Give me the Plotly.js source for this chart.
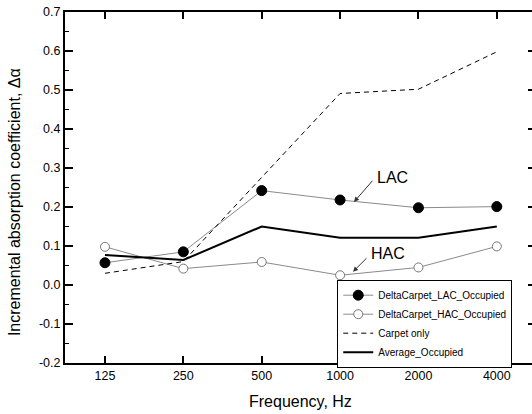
<!DOCTYPE html>
<html>
<head>
<meta charset="utf-8">
<script src="https://cdn.plot.ly/plotly-3.0.1.min.js"></script>
<style>
html,body{margin:0;padding:0;overflow:hidden;background:#fff;}
#chart{width:540px;height:414px;}
</style>
</head>
<body>
<div id="chart"></div>
<script>
// ---- data ----
var frequencies = ['125', '250', '500', '1000', '2000', '4000'];
var lacOccupied = [0.057, 0.085, 0.242, 0.218, 0.198, 0.201];
var hacOccupied = [0.098, 0.042, 0.059, 0.025, 0.045, 0.099];
var carpetOnly  = [0.030, 0.060, 0.276, 0.491, 0.502, 0.598];
var avgOccupied = [0.077, 0.064, 0.150, 0.121, 0.121, 0.150];
var yTickVals = [-0.2, -0.1, 0.0, 0.1, 0.2, 0.3, 0.4, 0.5, 0.6, 0.7];
var yTickText = ['-0.2', '-0.1', '0.0', '0.1', '0.2', '0.3', '0.4', '0.5', '0.6', '0.7'];
var seriesNames = ['DeltaCarpet_LAC_Occupied', 'DeltaCarpet_HAC_Occupied', 'Carpet only', 'Average_Occupied'];

var FONT = 'Liberation Sans, Arial, sans-serif';

var traces = [
  {
    x: frequencies, y: lacOccupied, name: seriesNames[0], type: 'scatter', mode: 'lines+markers',
    line: {color: '#8a8a8a', width: 1},
    marker: {symbol: 'circle', size: 10, color: '#000', line: {color: '#000', width: 1}}
  },
  {
    x: frequencies, y: hacOccupied, name: seriesNames[1], type: 'scatter', mode: 'lines+markers',
    line: {color: '#8a8a8a', width: 1},
    marker: {symbol: 'circle', size: 9, color: '#fff', line: {color: '#777', width: 1}}
  },
  {
    x: frequencies, y: carpetOnly, name: seriesNames[2], type: 'scatter', mode: 'lines',
    line: {color: '#000', width: 1, dash: '5px,4px'}
  },
  {
    x: frequencies, y: avgOccupied, name: seriesNames[3], type: 'scatter', mode: 'lines',
    line: {color: '#000', width: 2}
  }
];

var layout = {
  width: 540, height: 414,
  margin: {l: 65, r: 4, t: 12, b: 51, autoexpand: false},
  paper_bgcolor: '#fff', plot_bgcolor: '#fff',
  font: {family: FONT, color: '#000', size: 12.5},
  showlegend: true,
  legend: {
    x: 0.578, y: 0.112, xanchor: 'left', yanchor: 'middle',
    bordercolor: '#000', borderwidth: 1, bgcolor: '#fff',
    font: {family: FONT, size: 10, color: '#000'},
    itemwidth: 30, tracegroupgap: 0
  },
  xaxis: {
    type: 'category', range: [-0.51, 5.5],
    showline: true, linecolor: '#000', linewidth: 2, mirror: 'ticks',
    ticks: 'inside', ticklen: 7, tickwidth: 2, tickcolor: '#000',
    showgrid: false, zeroline: false,
    tickfont: {family: FONT, size: 12.5, color: '#000'},
    fixedrange: true
  },
  yaxis: {
    range: [-0.2, 0.7],
    tickmode: 'array', tickvals: yTickVals, ticktext: yTickText,
    showline: true, linecolor: '#000', linewidth: 2, mirror: 'ticks',
    ticks: 'inside', ticklen: 8, tickwidth: 2, tickcolor: '#000',
    minor: {dtick: 0.05, tick0: -0.2, ticks: 'inside', ticklen: 4, tickwidth: 1.5, tickcolor: '#000', showgrid: false},
    showgrid: false, zeroline: false,
    tickfont: {family: FONT, size: 12.5, color: '#000'},
    fixedrange: true
  },
  annotations: [
    {xref: 'paper', yref: 'paper', x: 0.5, y: -0.110, xanchor: 'center', yanchor: 'middle',
     text: 'Frequency, Hz', showarrow: false, font: {family: FONT, size: 16, color: '#000'}},
    {xref: 'paper', yref: 'paper', x: -0.106, y: 0.4587, xanchor: 'center', yanchor: 'middle',
     textangle: -90, text: 'Incremental absorption coefficient, \u0394\u03b1', showarrow: false,
     font: {family: FONT, size: 16, color: '#000'}},
    {xref: 'paper', yref: 'paper', x: 0.6943, y: 0.5271, xanchor: 'center', yanchor: 'middle',
     text: 'LAC', showarrow: false, font: {family: FONT, size: 16, color: '#000'}},
    {xref: 'paper', yref: 'paper', x: 0.6136, y: 0.4587, text: ' ', font: {size: 1},
     showarrow: true, ax: 20, ay: -23, arrowhead: 2, arrowsize: 1, arrowwidth: 1, arrowcolor: '#333', standoff: 0},
    {xref: 'paper', yref: 'paper', x: 0.6858, y: 0.312, xanchor: 'center', yanchor: 'middle',
     text: 'HAC', showarrow: false, font: {family: FONT, size: 16, color: '#000'}},
    {xref: 'paper', yref: 'paper', x: 0.6115, y: 0.2601, text: ' ', font: {size: 1},
     showarrow: true, ax: 15, ay: -15, arrowhead: 2, arrowsize: 1, arrowwidth: 1, arrowcolor: '#333', standoff: 0}
  ]
};

Plotly.newPlot('chart', traces, layout, {displayModeBar: false, staticPlot: true});
</script>
</body>
</html>
